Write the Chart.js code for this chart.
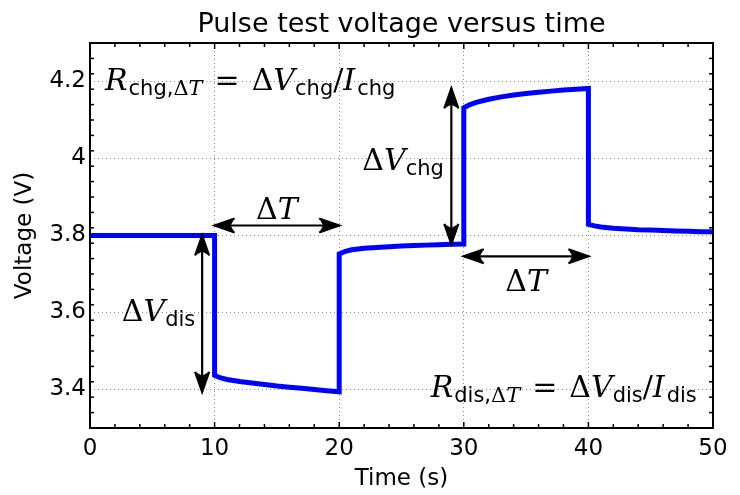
<!DOCTYPE html>
<html>
<head>
<meta charset="utf-8">
<script src="https://cdn.jsdelivr.net/npm/chart.js@4/dist/chart.umd.min.js"></script>
<style>
  html, body { margin: 0; padding: 0; background: #fff; }
  #wrap { width: 740px; height: 495px; }
</style>
</head>
<body>
<div id="wrap"><canvas id="pulse-chart"></canvas></div>
<script>
// pulse test: rest, 10 s discharge, rest, 10 s charge, rest
const timeS = [
  0, 10,
  10, 10.5, 11, 12, 13, 14, 15, 16, 17, 18, 19, 20,
  20, 20.5, 21, 22, 23, 24, 25, 26, 27, 28, 29, 30,
  30, 30.5, 31, 32, 33, 34, 35, 36, 37, 38, 39, 40,
  40, 40.5, 41, 42, 43, 44, 45, 46, 47, 48, 49, 50
]
const voltageV = [
  3.8, 3.8,
  3.437, 3.430, 3.426, 3.421, 3.417, 3.413, 3.409, 3.406, 3.403, 3.400, 3.397, 3.394,
  3.752, 3.759, 3.763, 3.767, 3.769, 3.771, 3.773, 3.774, 3.775, 3.776, 3.777, 3.778,
  4.132, 4.140, 4.146, 4.154, 4.160, 4.165, 4.169, 4.172, 4.175, 4.178, 4.180, 4.182,
  3.829, 3.825, 3.822, 3.819, 3.817, 3.815, 3.814, 3.813, 3.812, 3.811, 3.810, 3.810
]
const xTicks = [0, 10, 20, 30, 40, 50]
const yTicks = [3.4, 3.6, 3.8, 4, 4.2]

// annotation arrows in data units
const dtArrows = [[10, 20, 3.826], [30, 40, 3.746]]     // [x from, x to, y]
const dvArrows = [[9, 3.8, 3.394], [29, 3.778, 4.182]]  // [x, y from, y to]

const SANS = '"DejaVu Sans", sans-serif'
const SERIF = '"DejaVu Serif", serif'
const MATH = 30
const SUB = 21

const fontFor = (kind) => {
  switch (kind) {
    case 'it': return `italic ${MATH}px ${SERIF}`
    case 'rm': return `${MATH}px ${SERIF}`
    case 'sub': return `${SUB}px ${SANS}`
    case 'subrm': return `${SUB}px ${SERIF}`
    case 'subit': return `italic ${SUB}px ${SERIF}`
  }
}

// draws a run of math pieces, align 'left' | 'right' | 'center'
const drawMath = (ctx, parts, x, y, align) => {
  let width = 0
  parts.forEach((p) => {
    if (p.gap) { width += p.gap; return }
    ctx.font = fontFor(p.f)
    width += ctx.measureText(p.t).width
  })
  let cx = align == 'right' ? x - width : align == 'center' ? x - width / 2 : x
  ctx.textBaseline = 'alphabetic'
  ctx.textAlign = 'left'
  parts.forEach((p) => {
    if (p.gap) { cx += p.gap; return }
    ctx.font = fontFor(p.f)
    const dy = p.f.startsWith('sub') ? 5 : 0
    ctx.fillText(p.t, cx, y + dy)
    cx += ctx.measureText(p.t).width
  })
}

const resistanceParts = (tag) => [
  { t: 'R', f: 'it' }, { gap: 1 }, { t: tag + ',', f: 'sub' }, { t: 'Δ', f: 'subrm' }, { t: 'T', f: 'subit' },
  { gap: 12 }, { t: '=', f: 'rm' }, { gap: 12 },
  { t: 'Δ', f: 'rm' }, { t: 'V', f: 'it' }, { t: tag, f: 'sub' }, { t: '/', f: 'rm' },
  { t: 'I', f: 'it' }, { gap: 2 }, { t: tag, f: 'sub' }
]

const arrowHead = (ctx, tx, ty, ang) => {
  const len = 20, half = 7, notch = 16
  ctx.save()
  ctx.translate(tx, ty)
  ctx.rotate(ang)
  ctx.beginPath()
  ctx.moveTo(0, 0)
  ctx.lineTo(-len, -half)
  ctx.lineTo(-notch, 0)
  ctx.lineTo(-len, half)
  ctx.closePath()
  ctx.fill()
  ctx.beginPath()
  ctx.moveTo(-len, -half)
  ctx.lineTo(0, 0)
  ctx.lineTo(-len, half)
  ctx.stroke()
  ctx.restore()
}

const doubleArrow = (ctx, x1, y1, x2, y2) => {
  const ang = Math.atan2(y2 - y1, x2 - x1)
  ctx.beginPath()
  ctx.moveTo(x1, y1)
  ctx.lineTo(x2, y2)
  ctx.stroke()
  arrowHead(ctx, x2, y2, ang)
  arrowHead(ctx, x1, y1, ang + Math.PI)
}

const frame = {
  id: 'frame',
  afterDraw(chart) {
    const { ctx, chartArea: a, scales: { x, y } } = chart
    ctx.save()

    // title over the plot box
    ctx.fillStyle = '#000'
    ctx.font = `27px ${SANS}`
    ctx.textAlign = 'center'
    ctx.textBaseline = 'alphabetic'
    ctx.fillText('Pulse test voltage versus time', (a.left + a.right) / 2, 32)

    // box with inward ticks on all four sides
    ctx.strokeStyle = '#000'
    ctx.lineWidth = 1.5
    const tick = (px, py, dx, dy) => {
      ctx.beginPath(); ctx.moveTo(px, py); ctx.lineTo(px + dx, py + dy); ctx.stroke()
    }
    for (let v = x.min; v <= x.max + 1e-9; v += 2) {
      const major = xTicks.includes(Math.round(v))
      const l = major ? 6 : 4
      const px = x.getPixelForValue(v)
      tick(px, a.bottom, 0, -l)
      tick(px, a.top, 0, l)
    }
    for (let v = y.min; v <= y.max + 1e-9; v += 0.04) {
      const major = yTicks.some((t) => Math.abs(t - v) < 1e-6)
      const l = major ? 6 : 4
      const py = y.getPixelForValue(v)
      tick(a.left, py, l, 0)
      tick(a.right, py, -l, 0)
    }
    ctx.lineWidth = 2
    ctx.strokeRect(a.left, a.top, a.right - a.left, a.bottom - a.top)

    // arrows
    ctx.lineWidth = 2.2
    ctx.lineJoin = 'miter'
    ctx.fillStyle = '#000'
    dtArrows.forEach(([x1, x2, yv]) => {
      doubleArrow(ctx, x.getPixelForValue(x1), y.getPixelForValue(yv), x.getPixelForValue(x2), y.getPixelForValue(yv))
    })
    dvArrows.forEach(([xv, y1, y2]) => {
      doubleArrow(ctx, x.getPixelForValue(xv), y.getPixelForValue(y1), x.getPixelForValue(xv), y.getPixelForValue(y2))
    })

    // labels
    const dT = [{ t: 'Δ', f: 'rm' }, { t: 'T', f: 'it' }]
    drawMath(ctx, dT, x.getPixelForValue(15), y.getPixelForValue(3.844), 'center')
    drawMath(ctx, dT, x.getPixelForValue(35), y.getPixelForValue(3.655), 'center')
    drawMath(ctx, [{ t: 'Δ', f: 'rm' }, { t: 'V', f: 'it' }, { t: 'dis', f: 'sub' }],
      x.getPixelForValue(8.45), y.getPixelForValue(3.577), 'right')
    drawMath(ctx, [{ t: 'Δ', f: 'rm' }, { t: 'V', f: 'it' }, { t: 'chg', f: 'sub' }],
      x.getPixelForValue(28.4), y.getPixelForValue(3.97), 'right')
    drawMath(ctx, resistanceParts('chg'), x.getPixelForValue(1.2), y.getPixelForValue(4.179), 'left')
    drawMath(ctx, resistanceParts('dis'), x.getPixelForValue(48.7), y.getPixelForValue(3.38), 'right')

    ctx.restore()
  }
}

const config = {
  type: 'line',
  data: {
    datasets: [{
      data: timeS.map((t, i) => ({ x: t, y: voltageV[i] })),
      borderColor: '#0000ff',
      borderWidth: 5,
      borderJoinStyle: 'miter',
      pointRadius: 0,
      tension: 0,
      fill: false
    }]
  },
  options: {
    responsive: false,
    animation: false,
    layout: { padding: { top: 43, right: 27, left: 0, bottom: 0 } },
    plugins: { legend: { display: false }, tooltip: { enabled: false } },
    scales: {
      x: {
        type: 'linear',
        min: 0,
        max: 50,
        afterBuildTicks: (s) => { s.ticks = xTicks.map((v) => ({ value: v })) },
        afterFit: (s) => { s.height = 67 },
        grid: { color: '#8c8c8c', lineWidth: 1, drawTicks: false },
        border: { display: false, dash: [1, 3] },
        ticks: { color: '#000', padding: 7, maxRotation: 0, font: { family: SANS, size: 23 } },
        title: { display: true, text: 'Time (s)', color: '#000', padding: { top: 0, bottom: 2 }, font: { family: SANS, size: 23 } }
      },
      y: {
        min: 3.3,
        max: 4.3,
        afterBuildTicks: (s) => { s.ticks = yTicks.map((v) => ({ value: v })) },
        afterFit: (s) => { s.width = 90 },
        grid: { color: '#8c8c8c', lineWidth: 1, drawTicks: false },
        border: { display: false, dash: [1, 3] },
        ticks: { color: '#000', padding: 4, font: { family: SANS, size: 23 }, callback: (v) => String(v) },
        title: { display: true, text: 'Voltage (V)', color: '#000', padding: { top: 11, bottom: 0 }, font: { family: SANS, size: 23 } }
      }
    }
  },
  plugins: [frame]
}

const canvas = document.getElementById('pulse-chart')
canvas.width = 740
canvas.height = 495
const pulseChart = new Chart(canvas.getContext('2d'), config)
</script>
</body>
</html>
